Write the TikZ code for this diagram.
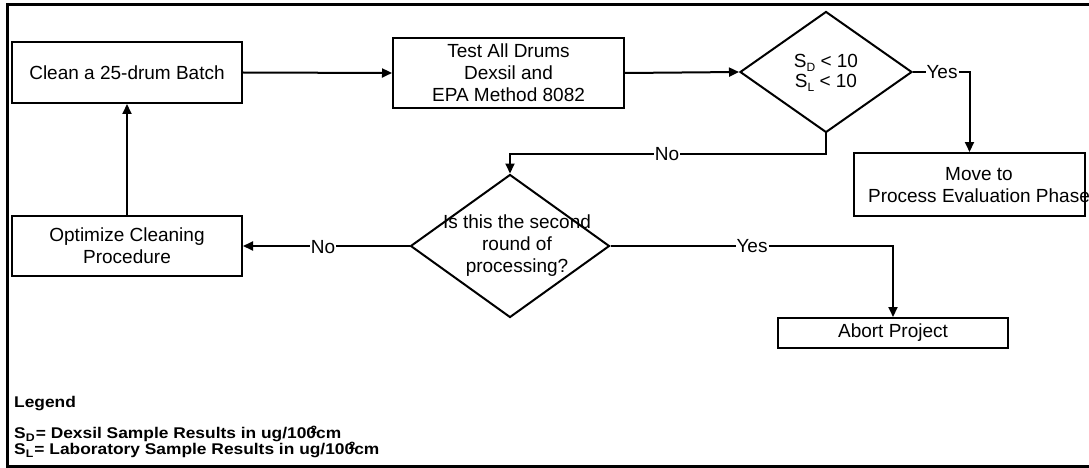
\documentclass[tikz,border=0pt]{standalone}
\usepackage{fontspec}
\setmainfont{Liberation Sans}
\usetikzlibrary{shapes.geometric,arrows.meta}
\newcommand{\mysub}[1]{\raisebox{-3.5pt}{\fontsize{12}{12}\selectfont #1}}
\newcommand{\legsub}[1]{\raisebox{-3.5pt}{\fontsize{11}{11}\selectfont #1}}
\begin{document}
\begin{tikzpicture}[x=1pt,y=-1pt,
  boxnode/.style={draw, line width=2pt, inner sep=0pt, align=center},
  txt/.style={font=\fontsize{19}{22}\selectfont, align=center, inner sep=0pt},
  dia/.style={draw, shape=diamond, line width=2pt, inner sep=0pt},
  arr/.style={line width=2pt, -{Triangle[length=10pt,width=9pt]}},
  lab/.style={fill=white, inner sep=1pt, font=\fontsize{19}{22}\selectfont},
  leg/.style={anchor=west, inner sep=0pt, xscale=1.12, transform shape, font=\fontsize{15.5}{16}\selectfont\bfseries}
]
\useasboundingbox (0,0) rectangle (1089,468);
% frame
\draw[line width=3pt] (1095,5) -- (7,5) -- (7,466) -- (1095,466);

\node[boxnode, txt, minimum width=230, minimum height=61] (clean) at (127,72.5) {Clean a 25-drum Batch};
\node[boxnode, txt, minimum width=231, minimum height=70] (test) at (508.5,73) {Test All Drums\\Dexsil and\\EPA Method 8082};
\node[dia, minimum width=172, minimum height=121] (d1) at (826,72) {};
\node[txt, font=\fontsize{19}{20}\selectfont] (d1t) at (826,73) {S\mysub{D} < 10\\S\mysub{L} < 10};
\node[boxnode, minimum width=231, minimum height=63] (move) at (969.5,184.5) {};
\node[txt] (movet) at (979,185) {Move to\\Process Evaluation Phase};
\node[dia, minimum width=199, minimum height=143] (d2) at (510,246) {};
\node[txt] (d2t) at (517,246) {Is this the second\\round of\\processing?};
\node[boxnode, txt, minimum width=230, minimum height=60] (opt) at (127,246) {Optimize Cleaning\\Procedure};
\node[boxnode, txt, minimum width=230, minimum height=30] (abort) at (893,333) {Abort Project};

\coordinate (c1) at (969.5,72);
\coordinate (c2) at (826,154);
\coordinate (c3) at (510,154);
\coordinate (c4) at (893,246);

\draw[arr] (clean.east) -- (test.west);
\draw[arr] (test.east) -- (d1.west);
\draw[arr] (d1.east) -- (c1) -- (move.north);
\draw[arr] (d1.south) -- (c2) -- (c3) -- (d2.north);
\draw[arr] (d2.west) -- (opt.east);
\draw[arr] (d2.east) -- (c4) -- (abort.north);
\draw[arr] (opt.north) -- (clean.south);

\node[lab] (ly1) at (942,72) {Yes};
\node[lab] (ln1) at (667,154) {No};
\node[lab] (ln2) at (323,247) {No};
\node[lab] (ly2) at (752,246) {Yes};

\node[leg] (legend) at (14,404) {Legend};
\node[leg] (sd) at (14,434) {S\legsub{D}\kern1pt= Dexsil Sample Results in ug/100\llap{\raisebox{5pt}{\fontsize{10.5}{10.5}\selectfont 2}\kern-1pt}cm};
\node[leg] (sl) at (14,450) {S\legsub{L}\kern1pt= Laboratory Sample Results in ug/100\llap{\raisebox{5pt}{\fontsize{10.5}{10.5}\selectfont 2}\kern-1pt}cm};
\end{tikzpicture}
\end{document}
